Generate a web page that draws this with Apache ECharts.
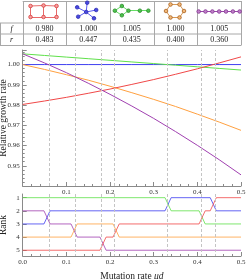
<!DOCTYPE html>
<html>
<head>
<meta charset="utf-8">
<script src="https://cdn.jsdelivr.net/npm/echarts@6/dist/echarts.min.js"></script>
<style>html,body{margin:0;padding:0;background:#fff;}#c{width:246px;height:279px;}</style>
</head>
<body>
<div id="c"></div>
<script>
// ---- data ----
const mu = [0, 0.05, 0.10, 0.15, 0.20, 0.25, 0.30, 0.35, 0.40, 0.45, 0.50];
const growthRed    = [0.9803, 0.9820, 0.9838, 0.9858, 0.9879, 0.9902, 0.9926, 0.9952, 0.9979, 1.0008, 1.0038];
const growthBlue   = [1.0000, 1.0000, 1.0000, 1.0000, 1.0000, 1.0000, 1.0000, 1.0000, 1.0000, 1.0000, 1.0000];
const growthGreen  = [1.0053, 1.0045, 1.0037, 1.0029, 1.0021, 1.0013, 1.0005, 0.9997, 0.9989, 0.9981, 0.9973];
const growthOrange = [1.0000, 0.9976, 0.9950, 0.9923, 0.9893, 0.9861, 0.9828, 0.9793, 0.9755, 0.9716, 0.9675];
const growthPurple = [1.0053, 1.0008, 0.9960, 0.9908, 0.9853, 0.9795, 0.9734, 0.9669, 0.9601, 0.9530, 0.9455];
const crossings = [0.0557, 0.1177, 0.184, 0.214, 0.333, 0.411, 0.4365];
// rank changes: [mu at which the rank changes, new rank]
const rankRed    = [[0, 5], [0.184, 4], [0.214, 3], [0.411, 2], [0.4365, 1]];
const rankBlue   = [[0, 3], [0.0557, 2], [0.333, 1], [0.4365, 2]];
const rankGreen  = [[0, 1], [0.333, 2], [0.411, 3]];
const rankOrange = [[0, 4], [0.1177, 3], [0.214, 4]];
const rankPurple = [[0, 2], [0.0557, 3], [0.1177, 4], [0.184, 5]];
const rankTicks = [1, 2, 3, 4, 5];
const tableF = ['0.980', '1.000', '1.005', '1.000', '1.005'];
const tableR = ['0.483', '0.447', '0.435', '0.400', '0.360'];
// graph icons (node offsets and edges)
const iconLadderNodes = [[-14,-5.5],[-1,-6],[12,-5.5],[-14,5.5],[-1,5.5],[12,5.5]];
const iconLadderEdges = [[0,1],[1,2],[3,4],[4,5],[0,3],[1,4],[2,5]];
const iconStarNodes = [[-2,0.5],[-1,-8.8],[-11,-4.2],[8,-1.5],[-10,5.2],[5.8,6.8]];
const iconStarEdges = [[0,1],[0,2],[0,3],[0,4],[0,5]];
const iconKiteNodes = [[-17,-0.8],[-10,-5.5],[-3.4,-0.8],[-10,3.8],[8,-0.8],[16.5,-0.8]];
const iconKiteEdges = [[0,1],[1,2],[2,3],[3,0],[2,4],[4,5]];
const iconHexNodes = [[-5,-7],[4,-7],[8.5,-0.5],[4,6],[-5,6],[-9.5,-0.5]];
const iconHexEdges = [[0,1],[1,2],[2,3],[3,4],[4,5],[5,0]];
const iconPathNodes = [[-20.5,0],[-13.7,0],[-6.8,0],[0,0],[6.8,0],[13.7,0],[20.5,0]];
const iconPathEdges = [[0,1],[1,2],[2,3],[3,4],[4,5],[5,6]];

const colors = {red:'#f04848', blue:'#3f3ff0', green:'#5fe04a', orange:'#ffa040', purple:'#a040b0'};
const FONT = 'Liberation Serif';
const AX = '#8a8a8a';

const L = 22.7, W = 218.3;
const colW = W / 5;

function pairs(ys){ return mu.map((m,i)=>[m, ys[i]]); }
const hw = 0.007;
function rankPath(ch){
  const pts = [[0, ch[0][1]]];
  for (let k = 1; k < ch.length; k++) {
    pts.push([ch[k][0] - hw, ch[k-1][1]]);
    pts.push([ch[k][0] + hw, ch[k][1]]);
  }
  pts.push([0.5, ch[ch.length-1][1]]);
  return pts;
}
const vlines = {
  silent: true, symbol: ['none','none'], animation: false,
  label: {show: false},
  lineStyle: {color: '#c4c4c4', type: [3, 2], width: 1},
  data: crossings.map(c => ({xAxis: c}))
};
function upper(name, ys, col, ml){
  const s = {type:'line', name, xAxisIndex:0, yAxisIndex:0, data: pairs(ys), showSymbol:false,
    lineStyle:{color:col, width:1}, itemStyle:{color:col}, z:3};
  if (ml) s.markLine = vlines;
  return s;
}
function lower(name, ch, col, ml){
  const s = {type:'line', name, xAxisIndex:1, yAxisIndex:1, data: rankPath(ch), showSymbol:false,
    lineStyle:{color:col, width:1, opacity:0.8}, itemStyle:{color:col}, z:3};
  if (ml) s.markLine = vlines;
  return s;
}
function icon(col, nodes, edges, fill, stroke, edgeCol){
  const cx = colW * (col + 0.5), cy = 10.5;
  return {
    type:'graph', coordinateSystem:'cartesian2d', xAxisIndex:2, yAxisIndex:2,
    symbolSize: 3.6,
    data: nodes.map(n => ({value:[cx + n[0], cy + n[1]]})),
    links: edges.map(e => ({source:e[0], target:e[1]})),
    itemStyle:{color:fill, borderColor:stroke, borderWidth:0.8},
    lineStyle:{color:edgeCol, width:1, opacity:1},
    label:{show:false}, silent:true
  };
}

const chart = echarts.init(document.getElementById('c'), null, {renderer:'canvas'});

const axisCommon = {
  axisLine:{lineStyle:{color:AX, width:1}},
  axisTick:{inside:true, length:4, lineStyle:{color:AX}},
  minorTick:{show:true, splitNumber:5, length:2, lineStyle:{color:AX}},
  splitLine:{show:false}
};
const lbl = {fontSize:7, fontFamily:FONT, color:'#333', margin:3};

// table graphics
const TOP = 1, R1 = 23, R2 = 34, BOT = 45.5, RIGHT = L + W;
const tblStroke = {stroke:'#a8a8a8', lineWidth:1};
const graphics = [];
function hline(y, x1){ graphics.push({type:'line', shape:{x1:x1, y1:y, x2:RIGHT, y2:y}, style:tblStroke, silent:true}); }
function vline(x, y1){ graphics.push({type:'line', shape:{x1:x, y1:y1, x2:x, y2:BOT}, style:tblStroke, silent:true}); }
hline(TOP + 0.5, L); hline(R1, 0); hline(R2, 0); hline(BOT, 0);
vline(0.5, R1);
for (let i = 0; i <= 5; i++) vline(Math.round(L + colW * i) + 0.5, TOP);
function txt(t, x, y, italic){
  graphics.push({type:'text', x:x, y:y, silent:true,
    style:{text:t, align:'center', verticalAlign:'middle', fill:'#222',
      font:(italic ? 'italic ' : '') + '8px "' + FONT + '"'}});
}
txt('f', 11.5, (R1 + R2) / 2, true);
txt('r', 11.5, (R2 + BOT) / 2, true);
for (let i = 0; i < 5; i++) {
  txt(tableF[i], L + colW * (i + 0.5), (R1 + R2) / 2 + 0.5);
  txt(tableR[i], L + colW * (i + 0.5), (R2 + BOT) / 2 + 0.5);
}

chart.setOption({
  animation:false,
  backgroundColor:'#fff',
  grid:[
    {left:L, top:50, width:W, height:136, outerBoundsMode:'none', containLabel:false},
    {left:L, top:194, width:W, height:62, outerBoundsMode:'none', containLabel:false},
    {left:L, top:1, width:W, height:22, outerBoundsMode:'none', containLabel:false}
  ],
  xAxis:[
    Object.assign({type:'value', gridIndex:0, min:0, max:0.5, interval:0.1,
      axisLabel:Object.assign({showMinLabel:false, formatter:v=>v.toFixed(1)}, lbl)}, axisCommon),
    Object.assign({type:'value', gridIndex:1, min:0, max:0.5, interval:0.1,
      axisLabel:Object.assign({formatter:v=>v.toFixed(1)}, lbl),
      name:'{n|Mutation rate }{i|μd}', nameLocation:'middle', nameGap:15.5, nameMoveOverlap:false,
      nameTextStyle:{rich:{n:{fontSize:9.5, fontFamily:FONT, color:'#222'}, i:{fontSize:9.5, fontFamily:FONT, fontStyle:'italic', color:'#222'}}}
    }, axisCommon),
    {type:'value', gridIndex:2, min:0, max:W, show:false}
  ],
  yAxis:[
    Object.assign({type:'value', gridIndex:0, min:0.94, max:1.0072, interval:0.01,
      axisLabel:Object.assign({showMinLabel:false, showMaxLabel:false, formatter:v=>v.toFixed(2)}, lbl),
      name:'Relative growth rate', nameLocation:'middle', nameGap:14, nameMoveOverlap:false,
      nameTextStyle:{fontSize:9.5, fontFamily:FONT, color:'#222'}
    }, axisCommon),
    {type:'value', gridIndex:1, min:0.72, max:5.44, inverse:true,
      axisLine:{lineStyle:{color:AX, width:1}},
      axisTick:{inside:true, length:4, lineStyle:{color:AX}, customValues:rankTicks},
      axisLabel:Object.assign({customValues:rankTicks, formatter:v=>String(v)}, lbl),
      splitLine:{show:false},
      name:'Rank', nameLocation:'middle', nameGap:14, nameMoveOverlap:false,
      nameTextStyle:{fontSize:9.5, fontFamily:FONT, color:'#222'}
    },
    {type:'value', gridIndex:2, min:0, max:22, inverse:true, show:false}
  ],
  graphic: graphics,
  series:[
    upper('blue', growthBlue, colors.blue, true),
    upper('green', growthGreen, colors.green),
    upper('orange', growthOrange, colors.orange),
    upper('red', growthRed, colors.red),
    upper('purple', growthPurple, colors.purple),
    lower('green', rankGreen, colors.green, true),
    lower('blue', rankBlue, colors.blue),
    lower('purple', rankPurple, colors.purple),
    lower('orange', rankOrange, colors.orange),
    lower('red', rankRed, colors.red),
    icon(0, iconLadderNodes, iconLadderEdges, '#f4a0a0', '#d83a3a', '#e86a6a'),
    icon(1, iconStarNodes, iconStarEdges, '#4848e0', '#2a2ab0', '#5a5af0'),
    icon(2, iconKiteNodes, iconKiteEdges, '#4cc24c', '#2a8a2a', '#66dd66'),
    icon(3, iconHexNodes, iconHexEdges, '#f2b878', '#a8601c', '#d49858'),
    icon(4, iconPathNodes, iconPathEdges, '#c080c8', '#803090', '#9848a8')
  ]
});
</script>
</body>
</html>
